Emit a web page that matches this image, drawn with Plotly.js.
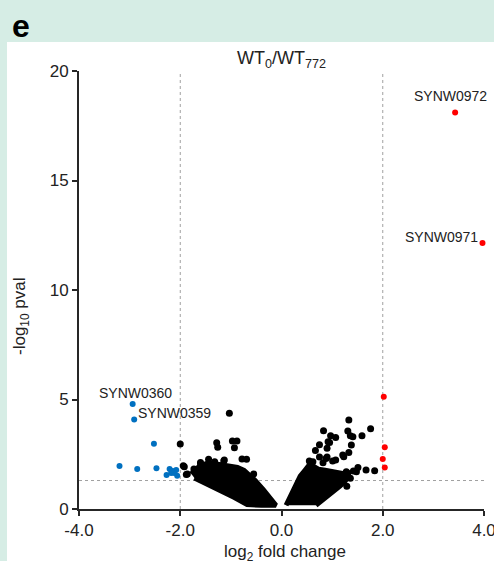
<!DOCTYPE html>
<html>
<head>
<meta charset="utf-8">
<script src="https://cdn.plot.ly/plotly-3.0.1.min.js"></script>
<style>html,body{margin:0;padding:0;background:#d6ede5;}#chart{width:494px;height:561px;}</style>
</head>
<body>
<div id="chart"></div>
<script>
// Dense cloud outlines (non-significant genes, drawn as filled regions)
var denseLeftX = [-1.78,-1.72,-1.61,-1.46,-1.26,-1.06,-0.87,-0.74,-0.64,-0.52,-0.36,-0.2,-0.12,-0.11,-0.4,-0.68,-0.93,-1.25,-1.5,-1.72];
var denseLeftY = [1.6,1.78,1.96,2.1,2.04,1.98,1.9,1.76,1.55,1.3,0.88,0.46,0.22,0.17,0.17,0.2,0.52,0.88,1.17,1.42];
var denseRightX = [0.09,0.12,0.18,0.27,0.37,0.46,0.55,0.63,0.73,0.86,1.0,1.15,1.27,1.32,1.26,1.16,1.02,0.86,0.73,0.68];
var denseRightY = [0.17,0.32,0.66,1.1,1.5,1.76,2.02,1.95,1.82,1.77,1.72,1.66,1.6,1.48,1.28,1.06,0.8,0.5,0.24,0.17];

// Scattered non-significant genes
var nsX = [-2.0,-1.94,-1.73,-1.86,-1.6,-1.28,-1.26,-0.97,-0.88,-0.93,-0.78,-0.69,-1.44,-1.32,-1.14,-1.24,-1.41,-1.03,-1.92,-1.88,-1.13,-1.6,-0.55,
           1.33,1.76,0.83,0.97,1.31,1.36,1.59,0.95,1.07,0.75,1.38,0.9,0.67,1.33,0.75,0.9,1.23,1.07,0.55,0.82,1.01,1.51,1.67,1.84,1.42,1.28,1.15,1.36,1.29,0.92,1.41,1.21,1.48,1.31,0.62,0.88];
var nsY = [2.97,1.98,1.83,1.6,2.07,3.03,2.82,3.1,3.1,2.8,2.28,2.27,2.27,2.16,2.19,1.98,1.63,4.37,1.93,1.58,2.24,2.12,1.6,
           4.06,3.66,3.57,3.35,3.56,3.35,3.34,3.04,3.26,2.93,2.92,2.77,2.67,2.58,2.37,2.37,2.39,2.24,2.19,2.11,2.19,1.9,1.78,1.75,1.74,1.7,1.55,1.4,1.04,3.07,3.3,2.47,1.7,1.63,2.16,2.31];

// Down-regulated genes
var downX = [-2.94,-2.91,-2.52,-3.2,-2.85,-2.47,-2.21,-2.27,-2.15,-2.08,-2.06,-2.18,-2.12];
var downY = [4.79,4.09,2.98,1.96,1.83,1.86,1.83,1.55,1.74,1.78,1.52,1.64,1.64];

// Up-regulated genes
var upX = [3.43,3.97,2.02,2.04,2.0,2.04];
var upY = [18.11,12.15,5.13,2.82,2.28,1.9];

// Gene labels
var labelText = ['SYNW0972','SYNW0971','SYNW0360','SYNW0359'];
var labelX = [3.34,3.16,-2.89,-2.11];
var labelY = [18.86,12.42,5.3,4.38];

// Thresholds
var fcThresholds = [-2, 2];
var pThreshold = [1.3];

var xTicks = [-4,-2,0,2,4];
var xTickText = ['-4.0','-2.0','0.0','2.0','4.0'];
var yTicks = [0,5,10,15,20];

var FONT = 'Arial, "Liberation Sans", sans-serif';

var traces = [
  {x: denseLeftX, y: denseLeftY, type:'scatter', mode:'lines', fill:'toself', fillcolor:'#000',
   line:{color:'#000', width:5}, hoverinfo:'skip', showlegend:false},
  {x: denseRightX, y: denseRightY, type:'scatter', mode:'lines', fill:'toself', fillcolor:'#000',
   line:{color:'#000', width:5}, hoverinfo:'skip', showlegend:false},
  {x: nsX, y: nsY, type:'scatter', mode:'markers', marker:{color:'#000', size:7}, showlegend:false},
  {x: downX, y: downY, type:'scatter', mode:'markers', marker:{color:'#0070c0', size:6}, showlegend:false},
  {x: upX, y: upY, type:'scatter', mode:'markers', marker:{color:'#ff0000', size:6}, showlegend:false, cliponaxis:false}
];

var L = 79, R = 484, T = 71, B = 509, W = 494, H = 561;
function px2x(p){ return (p - L) / (R - L); }
function px2y(p){ return (B - p) / (B - T); }

var shapes = [
  {type:'rect', xref:'paper', yref:'paper', x0:px2x(7), x1:px2x(500), y0:px2y(570), y1:px2y(42),
   fillcolor:'#ffffff', line:{width:0}, layer:'below'}
];
fcThresholds.forEach(function(v){
  shapes.push({type:'line', xref:'x', yref:'y', x0:v, x1:v, y0:0, y1:20, line:{color:'#a0a0a0', width:1, dash:'3px,3px'}, layer:'below'});
});
pThreshold.forEach(function(v){
  shapes.push({type:'line', xref:'x', yref:'y', x0:-4, x1:4, y0:v, y1:v, line:{color:'#a0a0a0', width:1, dash:'3px,3px'}, layer:'below'});
});

var annotations = labelText.map(function(t,i){
  return {text:t, x:labelX[i], y:labelY[i], xref:'x', yref:'y', showarrow:false, xanchor:'center', yanchor:'middle',
          font:{family:FONT, size:14, color:'#222'}};
});
annotations.push({text:'<b>e</b>', xref:'paper', yref:'paper', x:px2x(10), y:px2y(26), xanchor:'left', yanchor:'middle',
  showarrow:false, font:{family:FONT, size:32, color:'#000'}});
annotations.push({text:'-log<sub>10</sub> pval', xref:'paper', yref:'paper', x:px2x(21), y:px2y(316), xanchor:'center', yanchor:'middle',
  textangle:-90, showarrow:false, font:{family:FONT, size:17, color:'#222'}});
annotations.push({text:'log<sub>2</sub> fold change', xref:'paper', yref:'paper', x:px2x(285), y:px2y(553), xanchor:'center', yanchor:'middle',
  showarrow:false, font:{family:FONT, size:17, color:'#222'}});

var layout = {
  width: W, height: H,
  margin:{l:L, r:W-R, t:T, b:H-B, pad:0},
  paper_bgcolor:'#d6ede5', plot_bgcolor:'rgba(0,0,0,0)',
  font:{family:FONT, color:'#222'},
  title:{text:'WT<sub>0</sub>/WT<sub>772</sub>', x:0.5, xref:'paper', xanchor:'center', y:1-58/H, yref:'container', yanchor:'middle',
         font:{family:FONT, size:18, color:'#222'}},
  xaxis:{range:[-4,4], tickvals:xTicks, ticktext:xTickText, showgrid:false, zeroline:false, showline:true,
         linecolor:'#262626', linewidth:2, ticks:'outside', ticklen:5, tickwidth:2, tickcolor:'#262626',
         ticklabeloverflow:'allow', tickfont:{family:FONT, size:17, color:'#222'}, fixedrange:true},
  yaxis:{range:[0,20], tickvals:yTicks, showgrid:false, zeroline:false, showline:true,
         linecolor:'#262626', linewidth:2, ticks:'outside', ticklen:5, tickwidth:2, tickcolor:'#262626',
         ticklabeloverflow:'allow', tickfont:{family:FONT, size:17, color:'#222'}, fixedrange:true},
  shapes: shapes,
  annotations: annotations,
  showlegend:false
};

Plotly.newPlot('chart', traces, layout, {displayModeBar:false, staticPlot:true});
</script>
</body>
</html>
